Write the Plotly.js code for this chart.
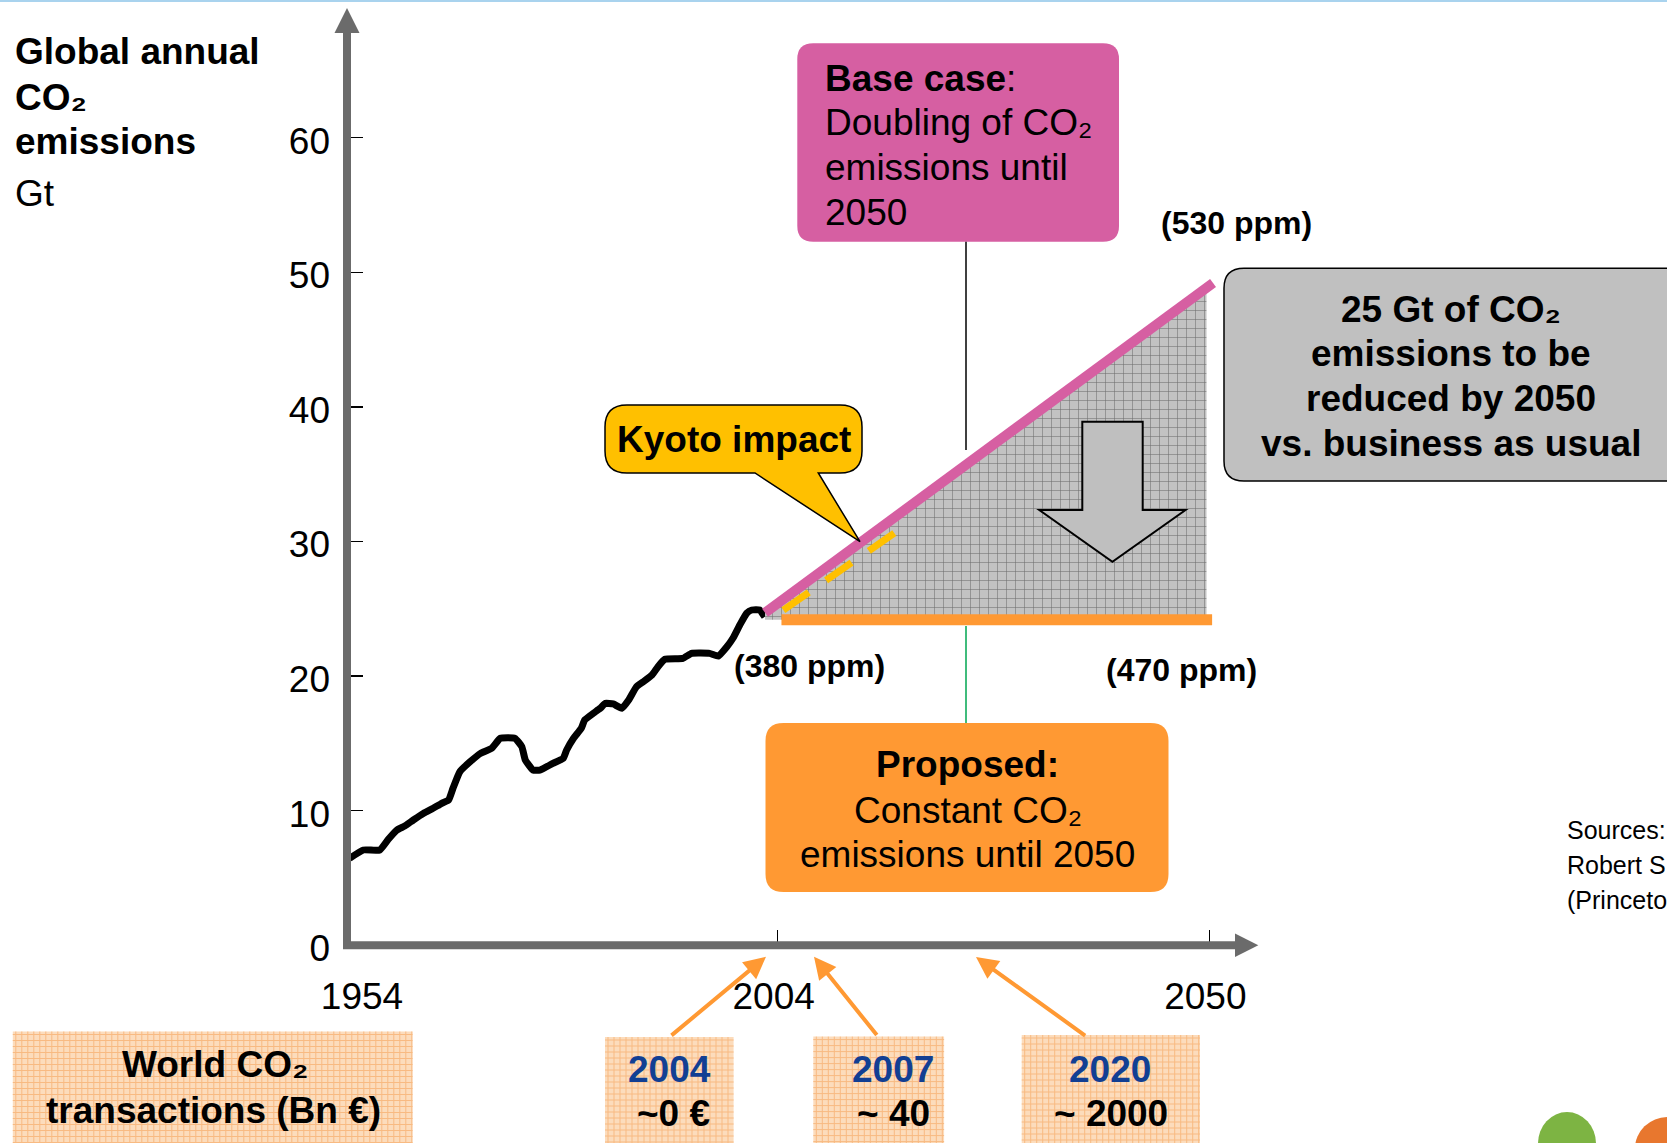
<!DOCTYPE html>
<html>
<head>
<meta charset="utf-8">
<script src="https://cdn.plot.ly/plotly-3.0.1.min.js"></script>
<style>
  html, body { margin: 0; padding: 0; background: #ffffff; }
  #chart { width: 1667px; height: 1143px; }
</style>
</head>
<body>
<div id="chart"></div>
<script>
// ---------------- data ----------------
// historical global annual CO2 emissions (Gt)
const histYears = [1954.3,1955.9,1957.8,1958.8,1959.8,1960.7,1961.7,1962.9,1964.0,1965.0,1965.8,1966.3,1967.1,1968.3,1969.5,1970.8,1971.8,1973.5,1974.3,1974.7,1975.6,1976.4,1977.9,1979.1,1979.5,1980.3,1981.2,1981.6,1982.6,1983.4,1984.0,1984.9,1985.9,1986.7,1987.6,1988.4,1989.4,1990.1,1990.9,1993.0,1994.0,1996.1,1997.1,1998.1,1998.8,1999.6,2000.4,2001.0,2001.9,2002.5];
const histValues = [6.46,7.08,7.08,7.88,8.57,8.86,9.31,9.81,10.18,10.55,10.80,11.66,12.90,13.64,14.26,14.64,15.38,15.38,14.75,13.77,13.02,13.02,13.52,13.89,14.51,15.38,16.12,16.74,17.24,17.61,17.98,17.93,17.61,18.22,19.21,19.58,20.08,20.70,21.25,21.32,21.69,21.69,21.49,22.18,22.81,23.80,24.67,24.91,24.91,24.41];
// base case: doubling until 2050
const baseYears = [2002.65, 2050.4];
const baseValues = [24.71, 49.2];
// proposed: constant emissions
const proposedYears = [2004.4, 2050.3];
const proposedValues = [24.19, 24.19];
// Kyoto impact
const kyotoYears = [2004.6, 2016.9];
const kyotoValues = [24.91, 30.85];
// reduction wedge (between base case and proposed)
const wedgeYears = [2002.65, 2049.7, 2049.7, 2002.65];
const wedgeValues = [24.71, 48.85, 24.19, 24.19];
// axis ticks
const yTicks = [0, 10, 20, 30, 40, 50, 60];
const xTicksHist = [1954];
const xTicksFuture = [2004, 2050];
// transaction boxes
const transYears = ['2004', '2007', '2020'];
const transValues = ['~0 €', '~ 40', '~ 2000'];
// source lines (as visible, cut by the slide edge)
const sourceLines = ['Sources:', 'Robert S', '(Princeto'];

// ---------------- helpers (pixel -> paper) ----------------
const W = 1667, H = 1143;
const FONT = 'Arial, "Liberation Sans", sans-serif';
function fx(x) { return x / W; }
function fy(y) { return 1 - y / H; }
function P(x, y) { return fx(x).toFixed(5) + ',' + fy(y).toFixed(5); }
function rr(x0, y0, x1, y1, r) {
  return 'M' + P(x0 + r, y0) + ' L' + P(x1 - r, y0) + ' Q' + P(x1, y0) + ' ' + P(x1, y0 + r) +
    ' L' + P(x1, y1 - r) + ' Q' + P(x1, y1) + ' ' + P(x1 - r, y1) +
    ' L' + P(x0 + r, y1) + ' Q' + P(x0, y1) + ' ' + P(x0, y1 - r) +
    ' L' + P(x0, y0 + r) + ' Q' + P(x0, y0) + ' ' + P(x0 + r, y0) + ' Z';
}
function poly(pts) {
  return 'M' + pts.map(p => P(p[0], p[1])).join(' L') + ' Z';
}
function lineShape(x0, y0, x1, y1, color, width) {
  return { type: 'line', xref: 'paper', yref: 'paper', x0: fx(x0), y0: fy(y0), x1: fx(x1), y1: fy(y1),
           line: { color: color, width: width } };
}
function pathShape(path, fill, lineColor, lineWidth) {
  return { type: 'path', xref: 'paper', yref: 'paper', path: path, fillcolor: fill,
           line: { color: lineColor || 'rgba(0,0,0,0)', width: lineWidth || 0 } };
}
function txt(text, x, y, size, opts) {
  opts = opts || {};
  return { xref: 'paper', yref: 'paper', x: fx(x), y: fy(y), text: text, showarrow: false,
           xanchor: opts.xanchor || 'center', yanchor: 'middle', align: opts.xanchor || 'center',
           font: { family: FONT, size: size, color: opts.color || '#000000' } };
}
function arrowAnn(hx, hy, tx, ty) {
  return { xref: 'paper', yref: 'paper', x: fx(hx), y: fy(hy), ax: tx - hx, ay: ty - hy,
           text: '', showarrow: true, arrowhead: 2, arrowsize: 1.1, arrowwidth: 4,
           arrowcolor: '#FF9933', standoff: 0, startstandoff: 0 };
}

// ---------------- axes geometry ----------------
const Y0 = 945.3, PXY = 13.46;        // pixel of value 0, pixels per Gt
const AX_X = 347;                      // y-axis pixel x
const X2004 = 777.7, X2050 = 1209.3;   // tick pixels
const PXF = (X2050 - X2004) / 46;

// ---------------- traces ----------------
const traces = [
  { x: histYears, y: histValues, xaxis: 'x', yaxis: 'y', mode: 'lines',
    line: { color: '#000000', width: 7, shape: 'spline', smoothing: 0.4 }, hoverinfo: 'skip' },
  { x: wedgeYears, y: wedgeValues, xaxis: 'x2', yaxis: 'y', mode: 'lines', fill: 'toself',
    fillcolor: '#C2C2C2', line: { width: 0, color: 'rgba(0,0,0,0)' },
    fillpattern: { shape: '+', size: 9, solidity: 0.12, fgcolor: '#6F6F6F', bgcolor: '#C2C2C2' },
    hoverinfo: 'skip' },
  { x: proposedYears, y: proposedValues, xaxis: 'x2', yaxis: 'y', mode: 'lines',
    line: { color: '#FF9933', width: 11 }, hoverinfo: 'skip' },
  { x: kyotoYears, y: kyotoValues, xaxis: 'x2', yaxis: 'y', mode: 'lines',
    line: { color: '#FFC000', width: 7, dash: '31px,21px' }, hoverinfo: 'skip' },
  { x: baseYears, y: baseValues, xaxis: 'x2', yaxis: 'y', mode: 'lines',
    line: { color: '#D65FA2', width: 10 }, hoverinfo: 'skip' }
];

// ---------------- shapes ----------------
const shapes = [];
// thin light-blue rule at the very top
shapes.push(lineShape(0, 1, W, 1, '#A9D3EE', 2));
// base case box + connector
shapes.push(pathShape(rr(797.3, 43.3, 1119, 241.7, 16), '#D65FA2'));
shapes.push(lineShape(966, 241.7, 966, 450, '#000000', 1.5));
// reduction box
shapes.push(pathShape(rr(1224, 268.3, 1690, 481, 20), '#C0C0C0', '#000000', 1.5));
// Kyoto callout
(function () {
  const x0 = 605, y0 = 405, x1 = 862, y1 = 473, r = 22;
  const p = 'M' + P(x0 + r, y0) + ' L' + P(x1 - r, y0) + ' Q' + P(x1, y0) + ' ' + P(x1, y0 + r) +
    ' L' + P(x1, y1 - r) + ' Q' + P(x1, y1) + ' ' + P(x1 - r, y1) +
    ' L' + P(818.3, y1) + ' L' + P(860, 541.7) + ' L' + P(755, y1) +
    ' L' + P(x0 + r, y1) + ' Q' + P(x0, y1) + ' ' + P(x0, y1 - r) +
    ' L' + P(x0, y0 + r) + ' Q' + P(x0, y0) + ' ' + P(x0 + r, y0) + ' Z';
  shapes.push(pathShape(p, '#FFC000', '#000000', 1.5));
})();
// proposed box + connector
shapes.push(pathShape(rr(765.5, 723, 1168.5, 892, 18), '#FF9933'));
shapes.push(lineShape(966, 626, 966, 723, '#00A651', 1.5));
// big down arrow inside the wedge
shapes.push(pathShape(poly([[1082.3, 421.7], [1142.7, 421.7], [1142.7, 510], [1185.5, 510],
  [1112.4, 561.7], [1039.3, 510], [1082.3, 510]]), '#BFBFBF', '#000000', 2));
// axes with arrowheads
shapes.push(lineShape(AX_X, Y0 + 3, AX_X, 30, '#6B6B6B', 8));
shapes.push(pathShape(poly([[AX_X, 8], [AX_X + 12.5, 33], [AX_X - 12.5, 33]]), '#6B6B6B'));
shapes.push(lineShape(AX_X - 4, Y0, 1237, Y0, '#6B6B6B', 8));
shapes.push(pathShape(poly([[1258.3, Y0], [1235, Y0 - 11.7], [1235, Y0 + 11.7]]), '#6B6B6B'));
// hatched transaction boxes
const boxes = [[12.8, 1031.5, 412.5, 1150], [605, 1037, 733.6, 1150], [813.3, 1036.6, 944.1, 1150], [1021.7, 1035, 1200, 1150]];
boxes.forEach(b => {
  shapes.push({ type: 'rect', xref: 'paper', yref: 'paper', x0: fx(b[0]), y0: fy(b[1]), x1: fx(b[2]), y1: fy(b[3]),
    fillcolor: '#FCDCBC', line: { width: 0 } });
  for (let x = b[0] + 3; x < b[2]; x += 6) shapes.push(lineShape(x, b[1], x, H, '#F8BA82', 1));
  for (let y = b[1] + 3; y < H; y += 6) shapes.push(lineShape(b[0], y, b[2], y, '#F8BA82', 1));
});
// logo fragments at bottom right
shapes.push({ type: 'circle', xref: 'paper', yref: 'paper', x0: fx(1538), y0: fy(1112), x1: fx(1596), y1: fy(1175),
  fillcolor: '#7DB443', line: { width: 0 } });
shapes.push({ type: 'circle', xref: 'paper', yref: 'paper', x0: fx(1635), y0: fy(1117), x1: fx(1700), y1: fy(1180),
  fillcolor: '#E8772E', line: { width: 0 } });

// ---------------- annotations ----------------
const ann = [];
// y-axis title
ann.push(txt('<b>Global annual</b>', 13, 51.6, 37, { xanchor: 'left' }));
ann.push(txt('<b>CO₂</b>', 13, 97, 37, { xanchor: 'left' }));
ann.push(txt('<b>emissions</b>', 13, 141, 37, { xanchor: 'left' }));
ann.push(txt('Gt', 13, 193.5, 37, { xanchor: 'left' }));
// base case box text
ann.push(txt('<b>Base case</b>:', 823.3, 78, 37, { xanchor: 'left' }));
ann.push(txt('Doubling of CO₂', 823.3, 123, 37, { xanchor: 'left' }));
ann.push(txt('emissions until', 823.3, 167.5, 37, { xanchor: 'left' }));
ann.push(txt('2050', 823.3, 212, 37, { xanchor: 'left' }));
// reduction box text
ann.push(txt('<b>25 Gt of CO₂</b>', 1451, 309, 37));
ann.push(txt('<b>emissions to be</b>', 1451, 353.5, 37));
ann.push(txt('<b>reduced by 2050</b>', 1451, 398, 37));
ann.push(txt('<b>vs. business as usual</b>', 1451, 443, 37));
// Kyoto
ann.push(txt('<b>Kyoto impact</b>', 733.6, 440, 37));
// ppm labels
ann.push(txt('<b>(530 ppm)</b>', 1236.5, 222.7, 32));
ann.push(txt('<b>(380 ppm)</b>', 809, 666, 32));
ann.push(txt('<b>(470 ppm)</b>', 1181, 670, 32));
// proposed box text
ann.push(txt('<b>Proposed:</b>', 967, 764.4, 37));
ann.push(txt('Constant CO₂', 967.5, 810, 37));
ann.push(txt('emissions until 2050', 967.5, 854.5, 37));
// bottom boxes
ann.push(txt('<b>World CO₂</b>', 215, 1064.5, 37));
ann.push(txt('<b>transactions (Bn €)</b>', 213.5, 1110, 37));
const transX = [[669, 673], [893, 893], [1109.7, 1110.5]];
transYears.forEach((t, i) => {
  ann.push(txt('<b>' + t + '</b>', transX[i][0], 1069, 37, { color: '#123F93' }));
  ann.push(txt('<b>' + transValues[i] + '</b>', transX[i][1], 1113.5, 37));
});
// orange pointers
ann.push(arrowAnn(766, 956.7, 670, 1036.6));
ann.push(arrowAnn(814, 956.7, 878, 1036.6));
ann.push(arrowAnn(976, 957, 1086.6, 1036.6));
// sources
sourceLines.forEach((s, i) => {
  ann.push(txt(s, 1565, 830 + 35 * i, 25, { xanchor: 'left' }));
});

// ---------------- layout ----------------
const tickFont = { family: FONT, size: 37, color: '#000000' };
const layout = {
  width: W, height: H,
  margin: { l: 0, r: 0, t: 0, b: 0 },
  paper_bgcolor: '#ffffff', plot_bgcolor: 'rgba(0,0,0,0)',
  showlegend: false,
  font: { family: FONT },
  xaxis: {
    domain: [fx(AX_X), fx(X2004)], range: [1954, 2004], anchor: 'y',
    showgrid: false, zeroline: false, showline: false,
    tickmode: 'array', tickvals: xTicksHist, ticktext: xTicksHist.map(String),
    ticks: '', tickfont: tickFont, ticklabelshift: 15, ticklabelstandoff: 26
  },
  xaxis2: {
    domain: [fx(750), fx(1260)], range: [2004 - (X2004 - 750) / PXF, 2004 + (1260 - X2004) / PXF], anchor: 'y',
    showgrid: false, zeroline: false, showline: false,
    tickmode: 'array', tickvals: xTicksFuture, ticktext: xTicksFuture.map(String),
    ticks: 'inside', ticklen: 15, tickwidth: 1.5, tickcolor: '#000000',
    tickfont: tickFont, ticklabelshift: -4, ticklabelstandoff: 26
  },
  yaxis: {
    domain: [fy(Y0), fy(9)], range: [0, (Y0 - 9) / PXY], anchor: 'x',
    showgrid: false, zeroline: false, showline: false,
    tickmode: 'array', tickvals: yTicks, ticktext: yTicks.map(String),
    ticks: 'inside', ticklen: 16, tickwidth: 1.5, tickcolor: '#000000',
    tickfont: tickFont, ticklabelstandoff: 16, ticklabelshift: 3
  },
  shapes: shapes,
  annotations: ann
};

Plotly.newPlot('chart', traces, layout, { displayModeBar: false, staticPlot: true });
</script>
</body>
</html>
